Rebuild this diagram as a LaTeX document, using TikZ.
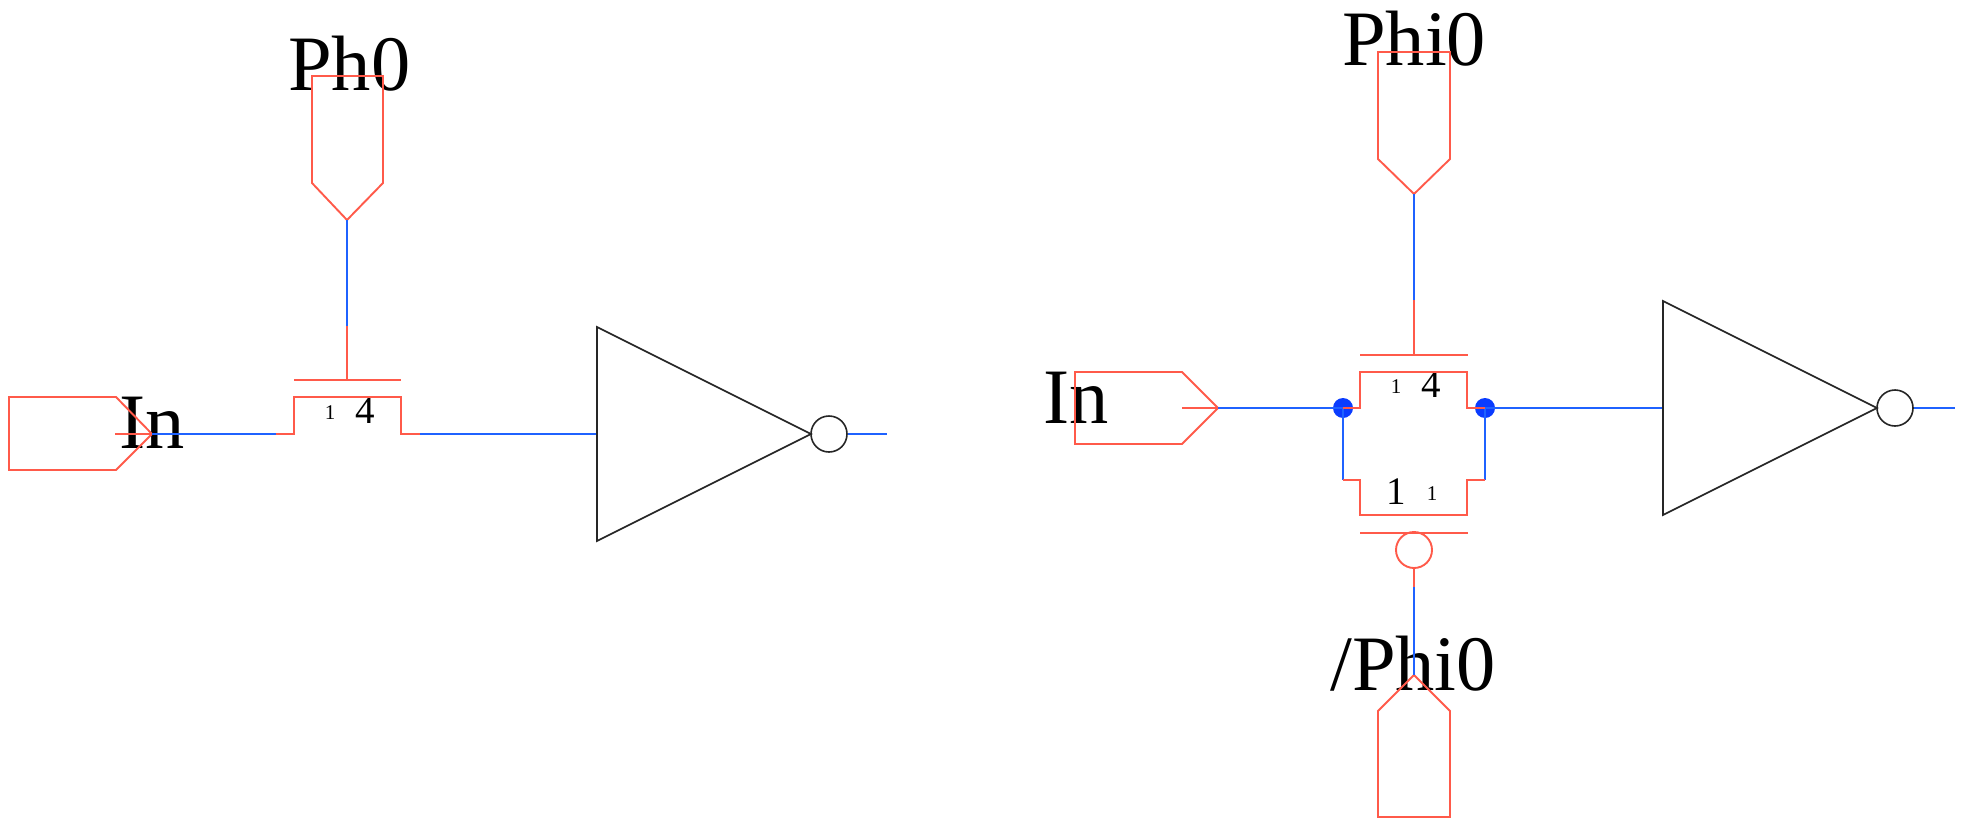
\documentclass[tikz,border=0pt]{standalone}
\usepackage{fontspec}
\setmainfont{Liberation Serif}
\definecolor{wred}{HTML}{FF5A4A}
\definecolor{wblue}{HTML}{1F62FF}
\definecolor{dotblue}{HTML}{0A3CFF}
\tikzset{
  redw/.style={draw=wred,line width=1.9pt},
  bluew/.style={draw=wblue,line width=1.9pt},
  blackw/.style={draw=black!85,line width=1.6pt},
  bubble/.style={circle,draw=black!85,line width=1.6pt,minimum size=36pt,inner sep=0pt},
  redbubble/.style={circle,draw=wred,line width=1.9pt,minimum size=36pt,inner sep=0pt},
  junction/.style={circle,fill=dotblue,minimum size=20pt,inner sep=0pt},
  biglabel/.style={anchor=base west,inner sep=0pt,font=\fontsize{78.5}{78}\selectfont},
  midlabel/.style={anchor=base,inner sep=0pt,font=\fontsize{39}{39}\selectfont},
  smalllabel/.style={anchor=base,inner sep=0pt,font=\fontsize{21}{21}\selectfont}
}
\begin{document}
\begin{tikzpicture}[x=1pt,y=-1pt]
\useasboundingbox (0,0) rectangle (1967,819);
% ---- labels
\node[biglabel] (lPh) at (288,90) {Ph0};
\node[biglabel] (lIn) at (119,448) {In};
\node[midlabel] (lF) at (365,423) {4};
\node[smalllabel] (lf) at (330,419) {1};
\node[biglabel] (rPhi) at (1342,65) {Phi0};
\node[biglabel] (rIn) at (1043,423) {In};
\node[biglabel] (rNPhi) at (1330,690) {/Phi0};
\node[midlabel] (rF) at (1431,397) {4};
\node[smalllabel] (rf) at (1396,393) {1};
\node[midlabel] (rO) at (1396,504) {1};
\node[smalllabel] (ro) at (1432,500) {1};
% ---- named points, left circuit
\coordinate (lInTip) at (152,434);
\coordinate (lInStub) at (115,434);
\coordinate (lSrcB) at (276,434);
\coordinate (lSrcL) at (294,434);
\coordinate (lDrnR) at (401,434);
\coordinate (lDrnB) at (420,434);
\coordinate (lInvIn) at (597,434);
\coordinate (lGate) at (347,380);
\coordinate (lGateTop) at (347,326);
\coordinate (lPinTip) at (347,220);
\coordinate (lEnd) at (887,434);
% left pins
\draw[redw] (9,397) -- (116,397) -- (lInTip) -- (116,470) -- (9,470) -- cycle;
\draw[redw] (lInStub) -- (lInTip);
\draw[redw] (312,76) -- (383,76) -- (383,183) -- (lPinTip) -- (312,183) -- cycle;
% left transistor
\draw[bluew] (lInTip) -- (lSrcB);
\draw[redw] (lSrcB) -- (lSrcL) -- (294,397) -- (401,397) -- (lDrnR) -- (lDrnB);
\draw[bluew] (lDrnB) -- (lInvIn);
\draw[redw] (294,380) -- (401,380);
\draw[redw] (lGate) -- (lGateTop);
\draw[bluew] (lGateTop) -- (lPinTip);
% left inverter
\draw[blackw] (597,327) -- (597,541) -- (811,434) -- cycle;
\node[bubble] (lBub) at (829,434) {};
\draw[bluew] (lBub.east) -- (lEnd);
% ---- named points, right circuit
\node[junction] (jL) at (1343,408) {};
\node[junction] (jR) at (1485,408) {};
\coordinate (rInTip) at (1218,408);
\coordinate (rInStub) at (1182,408);
\coordinate (rInvIn) at (1663,408);
\coordinate (rTopTip) at (1414,194);
\coordinate (rTopMid) at (1414,300);
\coordinate (rTopGate) at (1414,355);
\coordinate (jLb) at (1343,480);
\coordinate (jRb) at (1485,480);
\coordinate (rEnd) at (1955,408);
\coordinate (rBotMid) at (1414,587);
\coordinate (rBotTip) at (1414,675);
% right pins
\draw[redw] (1075,372) -- (1182,372) -- (rInTip) -- (1182,444) -- (1075,444) -- cycle;
\draw[redw] (rInStub) -- (rInTip);
\draw[redw] (1378,52) -- (1450,52) -- (1450,159) -- (rTopTip) -- (1378,159) -- cycle;
\draw[redw] (rBotTip) -- (1450,711) -- (1450,817) -- (1378,817) -- (1378,711) -- cycle;
% right wires
\draw[bluew] (rInTip) -- (jL.center);
\draw[bluew] (jR.center) -- (rInvIn);
\draw[bluew] (jL.center) -- (jLb);
\draw[bluew] (jR.center) -- (jRb);
\draw[bluew] (rTopTip) -- (rTopMid);
\draw[bluew] (rBotMid) -- (rBotTip);
% right transistors
\draw[redw] (jL.center) -- (1360,408) -- (1360,372) -- (1467,372) -- (1467,408) -- (jR.center);
\draw[redw] (jLb) -- (1360,480) -- (1360,515) -- (1467,515) -- (1467,480) -- (jRb);
\draw[redw] (1360,355) -- (1468,355);
\draw[redw] (rTopMid) -- (rTopGate);
\draw[redw] (1360,533) -- (1468,533);
\node[redbubble] (rBub) at (1414,550) {};
\draw[redw] (rBub.south) -- (rBotMid);
% right inverter
\draw[blackw] (1663,301) -- (1663,515) -- (1877,408) -- cycle;
\node[bubble] (rOut) at (1895,408) {};
\draw[bluew] (rOut.east) -- (rEnd);
\end{tikzpicture}
\end{document}
